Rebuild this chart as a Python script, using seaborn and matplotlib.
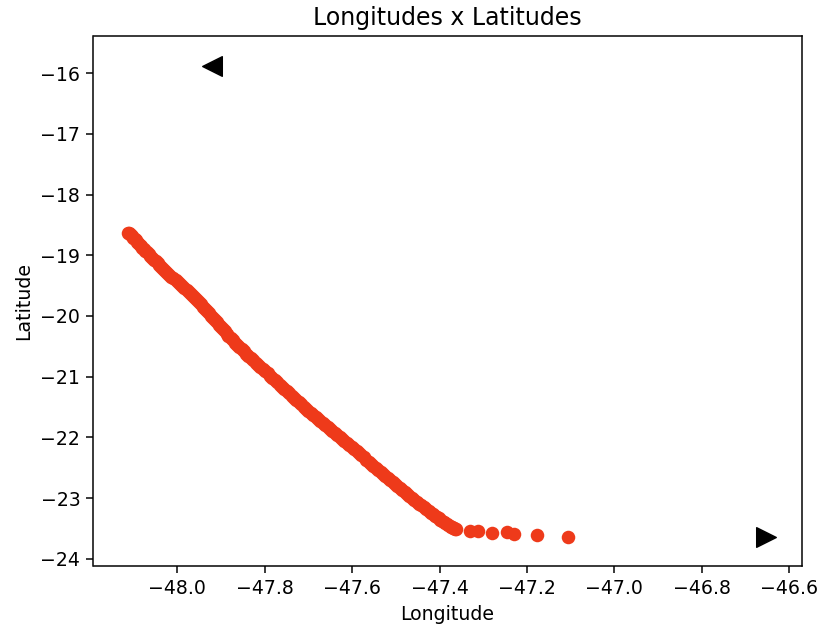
import matplotlib
matplotlib.use("Agg")
import matplotlib.pyplot as plt
import seaborn as sns
import pandas as pd

# Track points (longitude, latitude)
longitude = [
    -48.1120, -48.1100, -48.1080, -48.1055, -48.1030, -48.1005, -48.0980, -48.0950,
    -48.0920, -48.0890, -48.0860, -48.0830, -48.0800, -48.0765, -48.0730, -48.0695,
    -48.0660, -48.0620, -48.0580, -48.0540, -48.0500, -48.0455, -48.0410, -48.0365,
    -48.0320, -48.0275, -48.0230, -48.0185, -48.0140, -48.0090, -48.0040, -47.9990,
    -47.9940, -47.9890, -47.9840, -47.9790, -47.9740, -47.9690, -47.9640, -47.9595,
    -47.9550, -47.9505, -47.9460, -47.9415, -47.9370, -47.9325, -47.9280, -47.9235,
    -47.9190, -47.9145, -47.9100, -47.9055, -47.9010, -47.8965, -47.8920, -47.8875,
    -47.8830, -47.8780, -47.8730, -47.8680, -47.8630, -47.8580, -47.8530, -47.8480,
    -47.8430, -47.8375, -47.8320, -47.8265, -47.8210, -47.8155, -47.8100, -47.8045,
    -47.7990, -47.7935, -47.7880, -47.7825, -47.7770, -47.7715, -47.7660, -47.7605,
    -47.7550, -47.7495, -47.7440, -47.7385, -47.7330, -47.7275, -47.7220, -47.7165,
    -47.7110, -47.7055, -47.7000, -47.6945, -47.6890, -47.6835, -47.6780, -47.6725,
    -47.6670, -47.6615, -47.6560, -47.6505, -47.6450, -47.6395, -47.6340, -47.6285,
    -47.6230, -47.6175, -47.6120, -47.6065, -47.6010, -47.5955, -47.5900, -47.5845,
    -47.5790, -47.5735, -47.5680, -47.5625, -47.5570, -47.5515, -47.5460, -47.5405,
    -47.5350, -47.5295, -47.5240, -47.5185, -47.5130, -47.5075, -47.5020, -47.4965,
    -47.4910, -47.4855, -47.4800, -47.4745, -47.4690, -47.4635, -47.4580, -47.4525,
    -47.4470, -47.4415, -47.4360, -47.4305, -47.4250, -47.4200, -47.4150, -47.4105,
    -47.4060, -47.4020, -47.3980, -47.3940, -47.3900, -47.3865, -47.3830, -47.3800,
    -47.3770, -47.3745, -47.3720, -47.3695, -47.3670, -47.3645, -47.3620,
    -47.330, -47.312, -47.279, -47.245, -47.229, -47.178, -47.107,
]
latitude = [
    -18.625, -18.637, -18.650, -18.670, -18.690, -18.710, -18.730, -18.755,
    -18.780, -18.805, -18.830, -18.852, -18.875, -18.900, -18.925, -18.952,
    -18.980, -19.010, -19.040, -19.070, -19.100, -19.132, -19.165, -19.197,
    -19.230, -19.260, -19.290, -19.320, -19.350, -19.382, -19.415, -19.447,
    -19.480, -19.512, -19.545, -19.577, -19.610, -19.642, -19.675, -19.707,
    -19.740, -19.775, -19.810, -19.845, -19.880, -19.917, -19.955, -19.992,
    -20.030, -20.067, -20.105, -20.142, -20.180, -20.217, -20.255, -20.290,
    -20.325, -20.362, -20.400, -20.437, -20.475, -20.512, -20.550, -20.585,
    -20.620, -20.657, -20.695, -20.732, -20.770, -20.805, -20.840, -20.875,
    -20.910, -20.946, -20.983, -21.019, -21.056, -21.092, -21.129, -21.165,
    -21.202, -21.238, -21.275, -21.311, -21.348, -21.384, -21.421, -21.457,
    -21.494, -21.527, -21.561, -21.594, -21.628, -21.661, -21.695, -21.728,
    -21.762, -21.795, -21.829, -21.862, -21.896, -21.929, -21.963, -21.996,
    -22.030, -22.063, -22.097, -22.130, -22.164, -22.197, -22.231, -22.264,
    -22.298, -22.331, -22.365, -22.398, -22.432, -22.465, -22.499, -22.532,
    -22.566, -22.599, -22.633, -22.666, -22.700, -22.733, -22.767, -22.800,
    -22.834, -22.867, -22.901, -22.933, -22.966, -22.998, -23.030, -23.061,
    -23.092, -23.122, -23.152, -23.183, -23.215, -23.240, -23.265, -23.290,
    -23.315, -23.337, -23.360, -23.380, -23.400, -23.417, -23.435, -23.448,
    -23.462, -23.472, -23.482, -23.490, -23.498, -23.504, -23.510,
    -23.535, -23.535, -23.568, -23.562, -23.595, -23.606, -23.634,
]

# Triangle markers
left_marker = (-47.920, -15.875)
right_marker = (-46.653, -23.643)

title = "Longitudes x Latitudes"
xlabel = "Longitude"
ylabel = "Latitude"

k = 1.36
plt.rcParams.update({
    "font.family": "DejaVu Sans",
    "font.size": 10 * k,
    "axes.titlesize": 12.5 * k,
    "axes.labelsize": 10 * k,
    "xtick.labelsize": 10 * k,
    "ytick.labelsize": 10 * k,
    "axes.linewidth": 0.8 * k,
    "xtick.major.size": 3.5 * k,
    "ytick.major.size": 3.5 * k,
    "xtick.major.width": 0.8 * k,
    "ytick.major.width": 0.8 * k,
    "xtick.major.pad": 3.5 * k,
    "ytick.major.pad": 3.5 * k,
    "axes.titlepad": 6 * k,
    "axes.labelpad": 4 * k,
    "axes.unicode_minus": True,
})

df = pd.DataFrame({"Longitude": longitude, "Latitude": latitude})

fig = plt.figure(figsize=(8.2, 6.3), dpi=100)
ax = fig.add_axes([93.5 / 820, (630 - 565.7) / 630, (801.7 - 93.5) / 820, (565.7 - 36) / 630])

sns.scatterplot(data=df, x="Longitude", y="Latitude", ax=ax, color="#EE3A1A",
                s=95, linewidth=0, legend=False)
sns.scatterplot(x=[left_marker[0]], y=[left_marker[1]], ax=ax, marker="<",
                color="black", s=200, linewidth=1, edgecolor="black", legend=False)
sns.scatterplot(x=[right_marker[0]], y=[right_marker[1]], ax=ax, marker=">",
                color="black", s=200, linewidth=1, edgecolor="black", legend=False)

ax.set_xlim(-48.192, -46.571)
ax.set_ylim(-24.115, -15.386)
ax.set_xticks([-48.0, -47.8, -47.6, -47.4, -47.2, -47.0, -46.8, -46.6])
ax.set_yticks([-24, -23, -22, -21, -20, -19, -18, -17, -16])
ax.set_title(title)
ax.set_xlabel(xlabel)
ax.set_ylabel(ylabel)

fig.savefig("out.png", dpi=100)
